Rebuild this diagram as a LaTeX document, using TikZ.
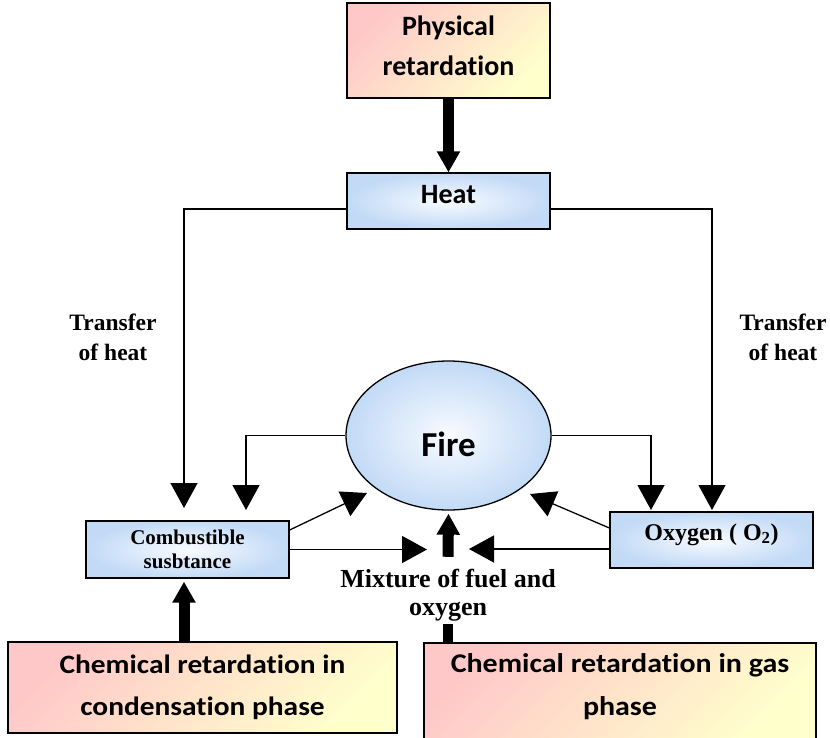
\documentclass[tikz,border=0pt]{standalone}
\usepackage{fontspec}
\setmainfont{Liberation Serif}
\newfontfamily\calib[Ligatures=NoCommon]{Carlito}
\newfontfamily\calibw[Ligatures=NoCommon,FakeStretch=1.11]{Carlito}
\usetikzlibrary{arrows.meta,shapes.geometric,calc}
\definecolor{pinkc}{RGB}{255,200,200}
\definecolor{yelc}{RGB}{255,255,204}
\definecolor{blueo}{RGB}{194,218,246}
\definecolor{bluei}{RGB}{248,251,255}
\begin{document}
\begin{tikzpicture}[x=1pt,y=-1pt,
  retbox/.style={draw=black,line width=1.3pt,top color=pinkc,bottom color=yelc,shading angle=45,align=center,inner sep=0pt},
  bluebox/.style={draw=black,line width=1.3pt,inner color=bluei,outer color=blueo,align=center,inner sep=0pt},
  thinarr/.style={line width=1.3pt,-{Triangle[width=27pt,length=25pt]}},
  thickarr/.style={line width=11pt,-{Triangle[width=22pt,length=21pt]}},
  lbl/.style={align=center,inner sep=0pt,font=\bfseries\fontsize{23.5}{30.5}\selectfont}]
\useasboundingbox (0,0) rectangle (830,737);
\clip (0,0) rectangle (830,737);

% boxes
\node[retbox,minimum width=203pt,minimum height=95pt,text depth=10pt,
      font=\calib\bfseries\fontsize{28}{40}\selectfont] (phys) at (448.5,50.5) {Physical\\retardation};
\node[bluebox,minimum width=203pt,minimum height=56pt,text height=18pt,text depth=14pt,
      font=\calib\bfseries\fontsize{28}{34}\selectfont] (heat) at (448.5,201) {Heat};
\node[draw=black,ellipse,line width=1.3pt,inner color=bluei,outer color=blueo,
      minimum width=205pt,minimum height=149pt,inner sep=0pt,text height=41.5pt,text depth=0pt,
      font=\calib\bfseries\fontsize{35}{40}\selectfont] (fire) at (448.5,435.5) {Fire};
\node[bluebox,minimum width=203pt,minimum height=57pt,
      font=\bfseries\fontsize{21}{24}\selectfont] (comb) at (187.5,549.5) {Combustible\\susbtance};
\node[bluebox,minimum width=203pt,minimum height=56pt,text height=10pt,text depth=10pt,
      font=\bfseries\fontsize{24}{26}\selectfont] (oxy) at (711.5,540) {Oxygen ( O\textsubscript{2})};
\node[retbox,minimum width=389pt,minimum height=91pt,
      font=\calibw\bfseries\fontsize{26.5}{42}\selectfont] (chemc) at (202.5,687.5) {Chemical retardation in\\condensation phase};
\node[retbox,minimum width=392pt,minimum height=97pt,text depth=13.5pt,
      font=\calibw\bfseries\fontsize{27}{43}\selectfont] (chemg) at (620,691.5) {Chemical retardation in gas\\phase};

% labels
\node[lbl] (tl) at (113,337.5) {Transfer\\of heat};
\node[lbl] (tr) at (783,337.5) {Transfer\\of heat};
\node[lbl,font=\bfseries\fontsize{26}{28}\selectfont] (mix) at (448,595) {Mixture of fuel and\\oxygen};

% coordinates of arrow tips
\coordinate (cL1) at (184,508);
\coordinate (cR1) at (712,510);
\coordinate (cL2) at (246,510);
\coordinate (cR2) at (651,510);
\coordinate (cL3) at (367,493);
\coordinate (cR3) at (530,494);
\coordinate (cL4) at (427,549.5);
\coordinate (cR4) at (469,549);

% connectors
\draw[thickarr] (phys.south) -- (heat.north);
\draw[thinarr] ([yshift=-8pt]heat.west) -| (cL1);
\draw[thinarr] ([yshift=-8pt]heat.east) -| (cR1);
\draw[thinarr] (fire.west) -| (cL2);
\draw[thinarr] (fire.east) -| (cR2);
\draw[thinarr] ([yshift=19.5pt]comb.east) -- (cL3);
\draw[thinarr] (comb.east) -- (cL4);
\draw[thinarr] ([yshift=12pt]oxy.west) -- (cR3);
\draw[thinarr] ([yshift=-9pt]oxy.west) -- (cR4);
\draw[thickarr] ([yshift=12pt]mix.north) -- ([yshift=-3pt]fire.south);
\draw[thickarr] ([xshift=-18.5pt]chemc.north) -- ([xshift=-3.5pt,yshift=-3pt]comb.south);
\draw[line width=10pt] (mix.south |- chemg.north) -- ++(0,-18);
\end{tikzpicture}
\end{document}
